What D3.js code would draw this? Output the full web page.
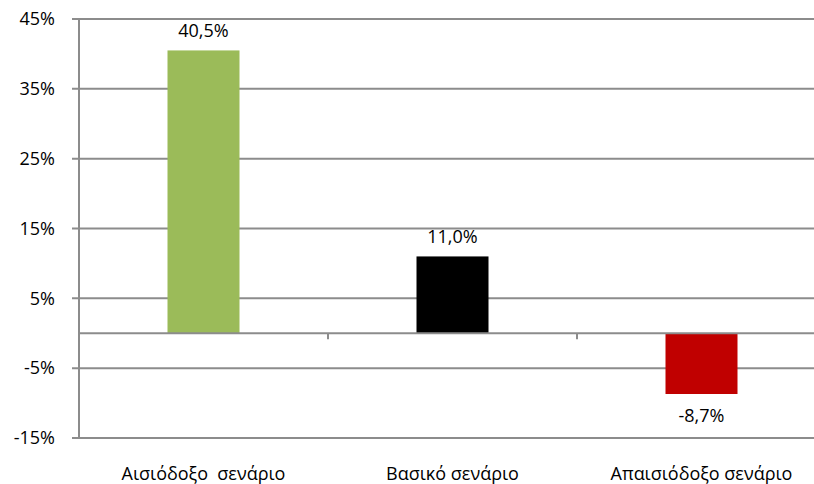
<!DOCTYPE html>
<html>
<head>
<meta charset="utf-8">
<script src="https://cdn.jsdelivr.net/npm/d3@7"></script>
<style>
  body { margin: 0; background: #fff; }
  text { font-family: "Open Sans", "DejaVu Sans", sans-serif; fill: #000; }
</style>
</head>
<body>
<svg width="814" height="484"></svg>
<script>
// scenario data
var categories = ["Αισιόδοξο  σενάριο", "Βασικό σενάριο", "Απαισιόδοξο σενάριο"];
var values = [40.5, 11.0, -8.7];
var barColors = ["#9BBB59", "#000000", "#C00000"];
var yTicks = [-15, -5, 5, 15, 25, 35, 45];

var svg = d3.select("svg"),
  margin = { top: 19, right: -12, bottom: 46, left: 79 },
  width = +svg.attr("width") - margin.left - margin.right,
  height = +svg.attr("height") - margin.top - margin.bottom;

var x = d3.scaleBand().domain(categories).range([0, width]);
var y = d3.scaleLinear().domain([-15, 45]).range([height, 0]);

var g = svg.append("g")
  .attr("transform", "translate(" + margin.left + "," + margin.top + ")");

var grid = "#8c8c8c";

// horizontal gridlines (with tick stubs on the left)
g.selectAll(".grid")
  .data(yTicks)
  .enter().append("line")
  .attr("x1", -7)
  .attr("x2", width)
  .attr("y1", function(d) { return y(d); })
  .attr("y2", function(d) { return y(d); })
  .attr("stroke", grid)
  .attr("stroke-width", 2);

// y tick labels
g.selectAll(".ylab")
  .data(yTicks)
  .enter().append("text")
  .attr("x", -24)
  .attr("y", function(d) { return y(d); })
  .attr("dy", "0.35em")
  .attr("text-anchor", "end")
  .style("font-size", "18px")
  .text(function(d) { return d + "%"; });

// left axis line
g.append("line")
  .attr("x1", 0).attr("x2", 0)
  .attr("y1", 0).attr("y2", height)
  .attr("stroke", grid).attr("stroke-width", 2);

// bars
var barW = 72;
g.selectAll(".bar")
  .data(values)
  .enter().append("rect")
  .attr("x", function(d, i) { return x(categories[i]) + x.bandwidth() / 2 - barW / 2; })
  .attr("y", function(d) { return y(Math.max(0, d)); })
  .attr("width", barW)
  .attr("height", function(d) { return Math.abs(y(d) - y(0)); })
  .attr("fill", function(d, i) { return barColors[i]; });

// zero line with category tick marks
g.append("line")
  .attr("x1", 0).attr("x2", width)
  .attr("y1", y(0)).attr("y2", y(0))
  .attr("stroke", grid).attr("stroke-width", 2);
g.selectAll(".ztick")
  .data(categories.slice(1))
  .enter().append("line")
  .attr("x1", function(d) { return x(d); })
  .attr("x2", function(d) { return x(d); })
  .attr("y1", y(0)).attr("y2", y(0) + 6)
  .attr("stroke", grid).attr("stroke-width", 2);

// value labels
g.selectAll(".vlab")
  .data(values)
  .enter().append("text")
  .attr("x", function(d, i) { return x(categories[i]) + x.bandwidth() / 2; })
  .attr("y", function(d) { return d >= 0 ? y(d) - 13 : y(d) + 28; })
  .attr("text-anchor", "middle")
  .style("font-size", "18px")
  .text(function(d) { return d.toFixed(1).replace(".", ",") + "%"; });

// category labels
g.selectAll(".xlab")
  .data(categories)
  .enter().append("text")
  .attr("x", function(d) { return x(d) + x.bandwidth() / 2; })
  .attr("y", height + 42)
  .attr("text-anchor", "middle")
  .style("font-size", "18px")
  .style("white-space", "pre")
  .text(function(d) { return d; });
</script>
</body>
</html>
